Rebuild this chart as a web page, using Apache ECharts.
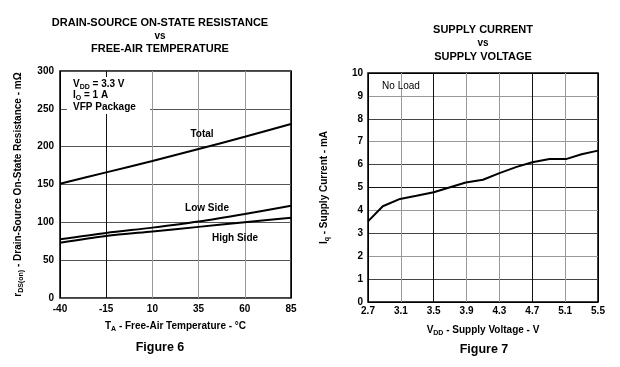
<!DOCTYPE html>
<html>
<head>
<meta charset="utf-8">
<script src="https://cdn.jsdelivr.net/npm/echarts@6/dist/echarts.min.js"></script>
<style>
html,body{margin:0;padding:0;background:#fff;}
#c{width:620px;height:367px;}
</style>
</head>
<body>
<div id="c"></div>
<script>
// ---- Figure 6 data ----
const tempTicks = [-40, -15, 10, 35, 60, 85];
const tempX = [-40, -15, 10, 35, 60, 85];
const totalR = [151, 166, 181, 197, 213, 230];
const lowSideR = [77.5, 86, 93, 101, 111, 122];
const highSideR = [73, 82, 88, 94, 100, 106];
const resTicks = [0, 50, 100, 150, 200, 250, 300];

// ---- Figure 7 data ----
const voltTicks = [2.7, 3.1, 3.5, 3.9, 4.3, 4.7, 5.1, 5.5];
const vddX = [2.7, 2.88, 3.09, 3.29, 3.5, 3.69, 3.89, 4.1, 4.3, 4.51, 4.7, 4.91, 5.11, 5.3, 5.5];
const iqY = [3.52, 4.18, 4.5, 4.64, 4.79, 5.0, 5.22, 5.34, 5.63, 5.9, 6.1, 6.24, 6.24, 6.45, 6.61];
const currTicks = [0, 1, 2, 3, 4, 5, 6, 7, 8, 9, 10];

const FONT = '"Liberation Sans", Arial, sans-serif';
const chart = echarts.init(document.getElementById('c'), null, {renderer: 'canvas'});

function pairs(xs, ys, off) { return xs.map((x, i) => [+(x - off).toFixed(4), ys[i]]); }

const lbl = {color: '#000', fontFamily: FONT, fontWeight: 'bold', fontSize: 10};
const nameStyle = {
  color: '#000', fontFamily: FONT, fontWeight: 'bold', fontSize: 10,
  rich: {
    n: {color: '#000', fontFamily: FONT, fontWeight: 'bold', fontSize: 10},
    s: {color: '#000', fontFamily: FONT, fontWeight: 'bold', fontSize: 7, verticalAlign: 'bottom', padding: [6, 0, 0, 0]}
  }
};
const lineStyle = {color: '#000', width: 2};
function txt(x, y, text, size, weight, align) {
  return {type: 'text', z: 11, style: {x: x, y: y, text: text, align: align || 'center', verticalAlign: 'middle',
    fontFamily: FONT, fontWeight: weight || 'bold', fontSize: size, fill: '#000'}};
}

const option = {
  backgroundColor: '#fff',
  animation: false,
  grid: [
    {left: 60, top: 71, width: 231, height: 227, show: true, borderColor: '#000', borderWidth: 1.5, backgroundColor: 'transparent'},
    {left: 368, top: 73, width: 230, height: 229, show: true, borderColor: '#000', borderWidth: 1.5, backgroundColor: 'transparent'}
  ],
  xAxis: [
    {
      gridIndex: 0, type: 'value', min: 0, max: 125, interval: 25,
      axisLine: {show: false}, axisTick: {show: false},
      axisLabel: Object.assign({}, lbl, {margin: 6, formatter: v => String(tempTicks[Math.round(v / 25)])}),
      splitLine: {show: true, lineStyle: {color: ['#000', '#111', '#999', '#999', '#999', '#000'], width: 1}},
      name: '{n|T}{s|A}{n| - Free-Air Temperature - °C}',
      nameLocation: 'middle', nameGap: 22, nameTextStyle: nameStyle
    },
    {
      gridIndex: 1, type: 'value', min: 0, max: 2.8, interval: 0.4,
      axisLine: {show: false}, axisTick: {show: false},
      axisLabel: Object.assign({}, lbl, {margin: 4, formatter: v => voltTicks[Math.round(v / 0.4)].toFixed(1)}),
      splitLine: {show: true, lineStyle: {color: ['#000', '#999', '#111', '#999', '#999', '#111', '#999', '#000'], width: 1}},
      name: '{n|V}{s|DD}{n| - Supply Voltage - V}',
      nameLocation: 'middle', nameGap: 22, nameTextStyle: nameStyle
    }
  ],
  yAxis: [
    {
      gridIndex: 0, type: 'value', min: resTicks[0], max: resTicks[resTicks.length - 1], interval: 50,
      axisLine: {show: false}, axisTick: {show: false},
      axisLabel: Object.assign({}, lbl, {margin: 6}),
      splitLine: {show: true, lineStyle: {color: '#555', width: 1}},
      name: '{n|r}{s|DS(on)}{n| - Drain-Source On-State Resistance - mΩ}',
      nameLocation: 'middle', nameGap: 35, nameTextStyle: nameStyle
    },
    {
      gridIndex: 1, type: 'value', min: currTicks[0], max: currTicks[currTicks.length - 1], interval: 1,
      axisLine: {show: false}, axisTick: {show: false},
      axisLabel: Object.assign({}, lbl, {margin: 5}),
      splitLine: {show: true, lineStyle: {color: ['#000', '#444', '#999', '#444', '#999', '#111', '#444', '#999', '#444', '#999', '#000'], width: 1}},
      name: '{n|I}{s|q}{n| - Supply Current - mA}',
      nameLocation: 'middle', nameGap: 37, nameTextStyle: nameStyle
    }
  ],
  series: [
    {type: 'line', xAxisIndex: 0, yAxisIndex: 0, data: pairs(tempX, totalR, -40), showSymbol: false, smooth: 0.3, lineStyle, z: 5},
    {type: 'line', xAxisIndex: 0, yAxisIndex: 0, data: pairs(tempX, lowSideR, -40), showSymbol: false, smooth: 0.3, lineStyle, z: 5},
    {type: 'line', xAxisIndex: 0, yAxisIndex: 0, data: pairs(tempX, highSideR, -40), showSymbol: false, smooth: 0.3, lineStyle, z: 5},
    {type: 'line', xAxisIndex: 1, yAxisIndex: 1, data: pairs(vddX, iqY, 2.7), showSymbol: false, lineStyle, z: 5}
  ],
  graphic: [
    // titles
    txt(160, 23, 'DRAIN-SOURCE ON-STATE RESISTANCE', 11),
    txt(160, 36, 'vs', 10),
    txt(160, 49, 'FREE-AIR TEMPERATURE', 11),
    txt(483, 30, 'SUPPLY CURRENT', 11),
    txt(483, 43, 'vs', 10),
    txt(483, 57, 'SUPPLY VOLTAGE', 11),
    // figure captions
    txt(160, 348, 'Figure 6', 12.5),
    txt(484, 350, 'Figure 7', 12.5),
    // condition box (Figure 6)
    {type: 'rect', shape: {x: 67, y: 77, width: 83, height: 37}, style: {fill: '#fff'}, z: 10},
    {type: 'text', z: 11, style: {x: 73, y: 84, verticalAlign: 'middle', text: '{n|V}{s|DD}{n| = 3.3 V}', rich: nameStyle.rich}},
    {type: 'text', z: 11, style: {x: 73, y: 95, verticalAlign: 'middle', text: '{n|I}{s|O}{n| = 1 A}', rich: nameStyle.rich}},
    txt(73, 107, 'VFP Package', 10, 'bold', 'left'),
    // curve labels
    txt(202, 134, 'Total', 10),
    txt(207, 208, 'Low Side', 10),
    txt(235, 238, 'High Side', 10),
    txt(401, 86, 'No Load', 10, 'normal')
  ]
};
chart.setOption(option);
</script>
</body>
</html>
